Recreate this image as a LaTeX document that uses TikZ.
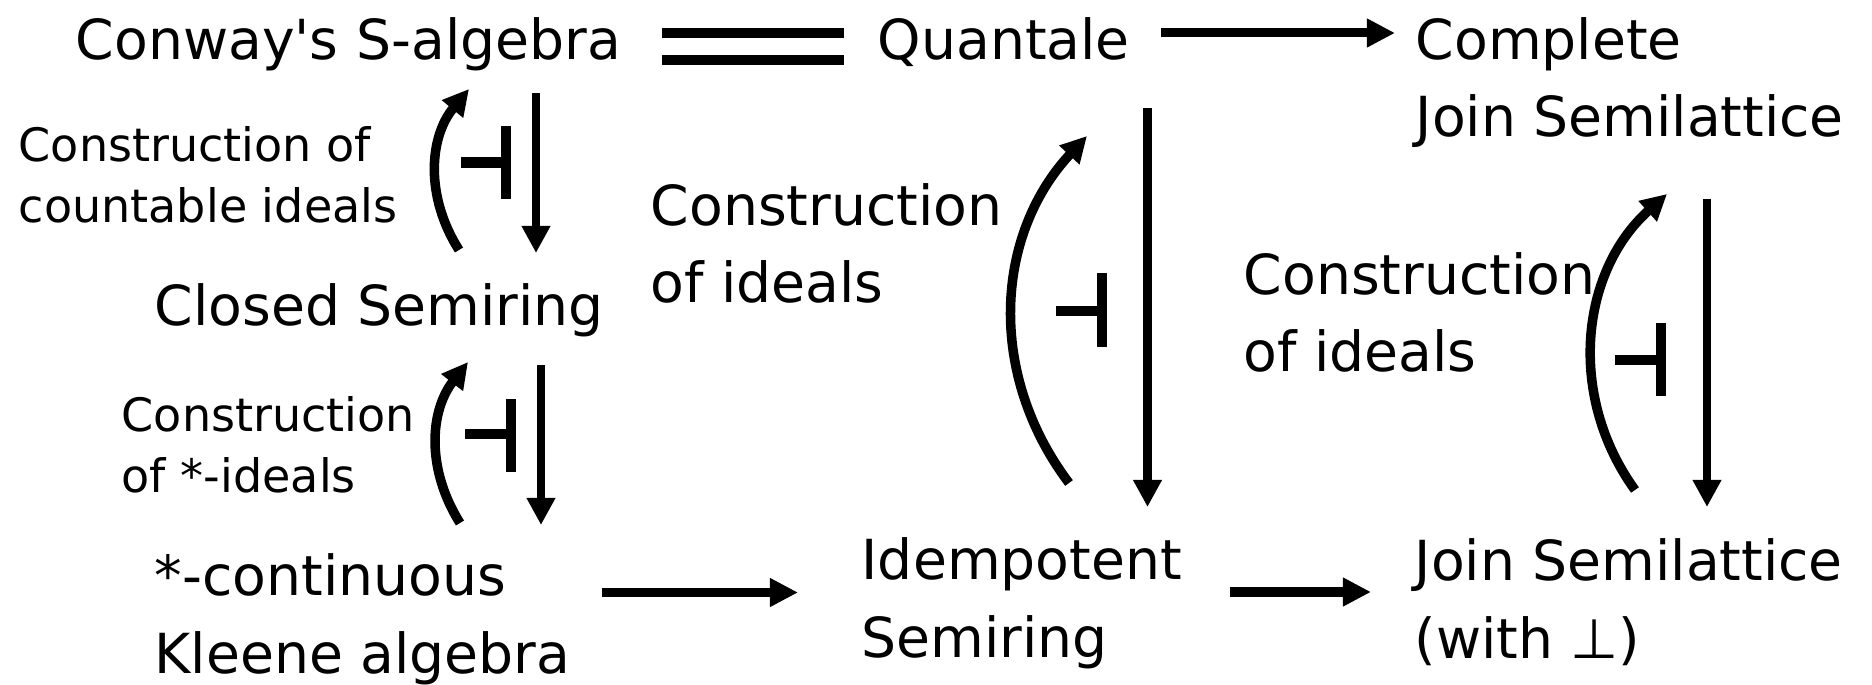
\documentclass[tikz,border=0pt]{standalone}
\usepackage{fontspec}
\newfontfamily\dvs{DejaVu Sans}
\usetikzlibrary{arrows.meta}
\begin{document}
\begin{tikzpicture}[x=0.01cm,y=-0.01cm,
  big/.style={inner sep=0pt, anchor=base west, align=left, font={\fontsize{15.7pt}{21.9pt}\dvs}},
  small/.style={inner sep=0pt, anchor=base west, align=left, font={\fontsize{13.1pt}{17.3pt}\dvs}},
  harrow/.style={line width=0.09cm, -{Triangle[length=0.28cm,width=0.27cm]}},
  varrow/.style={line width=0.085cm, -{Triangle[length=0.27cm,width=0.27cm]}},
  carrow/.style={line width=0.095cm, -{Triangle[length=0.26cm,width=0.26cm]}},
  adj/.style={line width=0.1cm},
  eqline/.style={line width=0.1cm, double, double distance=0.17cm},
]
\useasboundingbox (0,0) rectangle (1872,685);

% objects (anchor = baseline of the last line)
\node[big] (conway) at (75,60) {Conway's S-algebra};
\node[big] (quant) at (877,60) {Quantale};
\node[big] (cjsl) at (1415,137) {Complete\\Join Semilattice};
\node[big] (closed) at (154,326) {Closed Semiring};
\node[big] (kleene) at (154,673) {*-continuous\\Kleene algebra};
\node[big] (idem) at (861,657) {Idempotent\\Semiring};
\node[big] (jsl) at (1414,658) {Join Semilattice\\(with ⊥)};

% labels
\node[big] (lab2) at (650,303) {Construction\\of ideals};
\node[big] (lab3) at (1243,372) {Construction\\of ideals};
\node[small] (lab0) at (18,222) {Construction of\\countable ideals};
\node[small] (lab1) at (121,492) {Construction\\of *-ideals};

% connector end points
\coordinate (eqL) at (662,46.5);
\coordinate (eqR) at (844,46.5);
\coordinate (qcS) at (1161,33);
\coordinate (qcE) at (1395,33);
\coordinate (kiS) at (602,592.5);
\coordinate (kiE) at (798,592.5);
\coordinate (ijS) at (1230,592);
\coordinate (ijE) at (1371,592);

\coordinate (c0S) at (459,250);
\coordinate (c0E) at (469,89);
\coordinate (d0S) at (536,93);
\coordinate (d0E) at (536,253);

\coordinate (c1S) at (460,523);
\coordinate (c1E) at (468,362);
\coordinate (d1S) at (541,365);
\coordinate (d1E) at (541,525);

\coordinate (c2S) at (1069,483);
\coordinate (c2E) at (1087,136);
\coordinate (d2S) at (1147.5,108);
\coordinate (d2E) at (1147.5,507);

\coordinate (c3S) at (1635,490);
\coordinate (c3E) at (1667,194);
\coordinate (d3S) at (1707,199);
\coordinate (d3E) at (1707,507);

% connectors
\draw[eqline] (eqL) -- (eqR);
\draw[harrow] (qcS) -- (qcE);
\draw[harrow] (kiS) -- (kiE);
\draw[harrow] (ijS) -- (ijE);

\draw[carrow] (c0S) to[bend left=36] (c0E);
\draw[varrow] (d0S) -- (d0E);
\draw[carrow] (c1S) to[bend left=35] (c1E);
\draw[varrow] (d1S) -- (d1E);
\draw[carrow] (c2S) to[bend left=40] (c2E);
\draw[varrow] (d2S) -- (d2E);
\draw[carrow] (c3S) to[bend left=42] (c3E);
\draw[varrow] (d3S) -- (d3E);

% adjunction marks
\draw[adj] (506,126) -- (506,199) (461,162.5) -- (506,162.5);
\draw[adj] (511,399) -- (511,472) (465,434) -- (511,434);
\draw[adj] (1102,273) -- (1102,347) (1056,311) -- (1102,311);
\draw[adj] (1661,323) -- (1661,396) (1615,360) -- (1661,360);
\end{tikzpicture}
\end{document}
